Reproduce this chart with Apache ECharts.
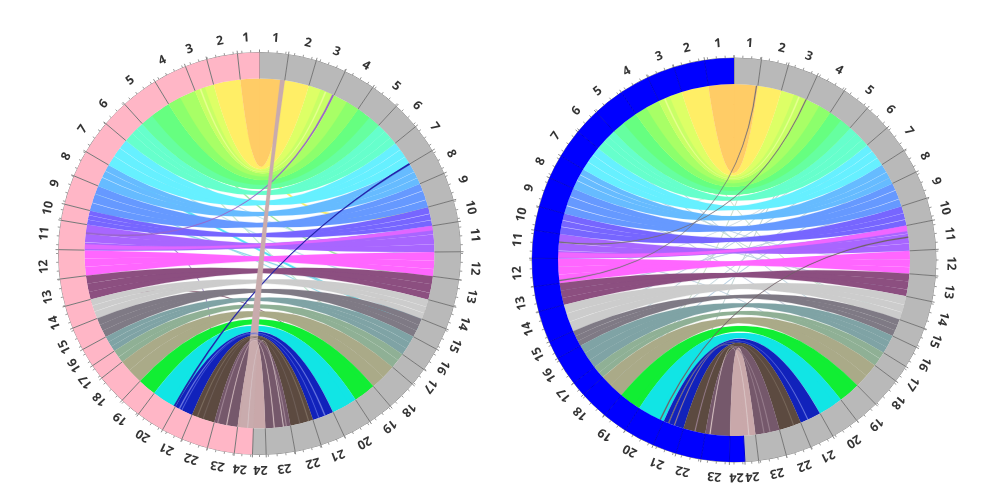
<!DOCTYPE html>
<html><head><meta charset="utf-8">
<style>html,body{margin:0;padding:0;background:#fff}#c{width:1000px;height:500px}</style>
<script src="https://cdn.jsdelivr.net/npm/echarts@6/dist/echarts.min.js"></script>
</head><body><div id="c"></div>
<script>
var chromosomes = ['1','2','3','4','5','6','7','8','9','10','11','12','13','14','15','16','17','18','19','20','21','22','23','24'];
var bandColors = ['#FFCC66','#FFEE66','#DDFF66','#A8FF66','#66FF80','#66FFCC','#66F0FF','#66BBFF','#6699FF','#7766FF','#A866FF','#FF66FF','#8C4F80','#CCCCCC','#7F7A85','#7FA3A5','#8FB095','#AAAA88','#11EE33','#11E5E5','#1122BB','#5C4A40','#75586B','#C9A8AA'];
var drawOrder = [11,12,10,13,9,14,8,15,7,16,6,17,5,18,4,19,3,20,2,21,1,22,0,23];

// degrees clockwise from the top for the grey half, anticlockwise for the coloured half
var leftGreyEdges = [0,8.3,16.4,25.2,34.3,42.9,50.9,59.2,66.5,74.6,80.9,89.5,97.5,105.3,112,118.4,125.2,130.5,139.4,146.7,155.1,162.2,169.8,178.1,182];
var leftPinkEdges = [0,6.3,15.2,21.6,31.3,42.1,49.8,59.6,67.3,75.8,80.5,88.9,97.3,105.2,111.8,118.5,123.9,128.3,136.9,143,151.2,157.3,165,172.8,178];
var rightGreyEdges = [0,7.8,15.6,24.3,33.1,41.3,49.2,57.2,64.2,72.2,78.7,87,94.5,101.9,109.8,115.6,121.8,126.8,135.5,142.6,150.7,157.7,165,173,176.9];
var rightBlueEdges = [0,8.4,17.3,25.3,33.9,43,50.6,59,66,74.7,81.5,89.5,97.6,104.8,113.9,119.2,127.5,131.8,140.2,147.4,156.4,163.3,170.6,178.7,183.1];

var leftGreyLabels = [4.3,13,20.9,29.6,39.3,46.8,54.1,62.5,70,77.7,85.1,93.9,101.4,108.9,115.2,121.8,127.8,136.3,143,151,158.8,165.7,173.4,179.7];
var leftPinkLabels = [3.6,10.6,18.9,26.7,36.8,46.2,54.9,63.3,71.1,77.9,84.7,93.5,101.6,108.7,115.6,121.2,126.5,132.4,139.9,147.4,154.6,161.6,168.8,174.8];
var rightGreyLabels = [4.1,12.7,20.2,29,38.6,46.1,53.6,61.4,68.7,76.1,83.1,90.9,98.4,105.7,111.9,118.6,124.7,130.9,139.1,146.6,154.4,161.1,168.6,175.1];
var rightBlueLabels = [4.3,12.6,20.2,29.6,38.9,46.6,55.2,63,70.6,78,84.7,93.5,101.5,108.5,115.7,122,128.5,135,143.6,151.4,159.2,166.3,174.8,180.7];

// strands of each chromosome's ribbon: fractions of its sector from the top,
// [grey side from, to, coloured side from, to]
var strandSpans = [
 [[0,1,0,1]],
 [[0,1,0,1]],
 [[0,1,0,1]],
 [[0,1,0,1]],
 [[0,1,.1,1],[0,.3,0,.2]],
 [[0,.35,.6,1],[.35,.7,.32,.6],[.7,1,0,.32]],
 [[0,.32,.66,1],[.33,.66,.33,.65],[.67,1,0,.32]],
 [[0,.4,.6,1],[.42,.7,.3,.58],[.72,1,0,.28]],
 [[0,.3,.7,1],[.32,.68,.34,.68],[.7,1,0,.32]],
 [[0,.35,.66,1],[.37,.68,.34,.64],[.7,1,0,.32]],
 [[0,.32,.7,1],[.33,.7,.36,.68],[.71,1,0,.34]],
 [[0,.36,.66,1],[.37,.7,.34,.65],[.71,1,0,.33]],
 [[0,.34,.68,1],[.34,.7,.34,.68],[.71,1,0,.34]],
 [[0,.36,.64,1],[.37,.68,.33,.63],[.69,1,0,.32]],
 [[0,.34,.66,1],[.34,.66,.34,.66],[.66,1,0,.34]],
 [[0,.33,.67,1],[.33,.66,.34,.67],[.66,1,0,.34]],
 [[0,.45,.55,1],[.46,1,0,.54]],
 [[0,.5,.42,1],[.5,1,0,.42]],
 [[0,.72,.28,1],[.28,1,0,.72]],
 [[0,.7,.3,1],[.3,1,0,.7]],
 [[.01,1,.01,1]],
 [[0,1,0,1]],
 [[0,1,0,1]],
 [[0,1,0,1]]
];

// [grey side from, to, coloured side from, to] in degrees
var leftUnderLinks = [
 [74.6,76.2,8,9.6], [114.8,116,60,61.2], [120,120.6,70,70.6], [99,99.8,30,30.8],
 [112,112.8,74,74.8], [130,130.6,40,40.6], [104,104.6,54,54.6], [90,90.5,45,45.5],
 [203,203.6,75,75.6], [146,146.4,106,106.4], [109,109.4,174,174.4]
];
var leftUnderColors = ['#FFEE66','#55E5F5','#8FD8E8','#A0E8A0','#8FD8E8','#C4E8D0','#B8E4EC','#B8E4EC','#9A80C0','#80566C','#B8A69A'];
var leftShadeLinks = [
 [20.5,25.2,18.2,21.6], [22,22.5,19.5,20], [30,34.3,27,31.3], [39,42.9,38,42.1], [80.9,82.4,87,88.5]
];
var leftShadeColors = ['#C8FF66','#E6FF90','#8CFF6C','#66FFA0','#E066FF'];
var leftOverLinks = [
 [24.6,25.2,83,83.6], [58.9,59.4,150.6,151.2], [6.8,8.3,173.5,178],
 [171,171.3,166,166.3], [175,175.3,169,169.3], [163.5,163.8,159,159.3], [157.8,158.2,152.5,152.9], [160,160.25,153.5,153.75],[166.5,166.8,161,161.3],[172,172.25,176,176.25]
];
var leftOverColors = ['#9966CC','#2222AA','#C9ABAD','#A48A98','#D4BEC0','#7E6E60','#6A78E0','#5566DD','#72625A','#D6C4C6'];

var rightUnderLinks = [
 [20,20.4,60,60.4], [38,38.4,120,120.4], [50,50.4,110,110.4], [62,62.4,135,135.4],
 [100,100.4,70,70.4], [112,112.4,20,20.4], [120,120.4,40,40.4], [135,135.4,90,90.4],
 [30,30.4,160,160.4], [12,12.4,140,140.4], [70,70.4,100,100.4], [90,90.4,55,55.4],
 [44,44.4,92,92.4], [56,56.4,130,130.4], [108,108.4,48,48.4], [128,128.4,64,64.4]
];
var rightUnderColors = ['#C4DECC','#B8D0DC','#B8D0DC','#B4CCE0','#B4CCE0','#CCDEC8','#B8D0DC','#B8CCDC','#BCD0D0','#C4D8C4','#B4C8E0','#B4CCE0','#C8D4DC','#C0D4DC','#BCD8D0','#C4CCDC'];
var rightShadeLinks = [
 [20,24.3,21.5,25.3], [21.5,22,23,23.5], [29,33.1,30,33.9], [37.5,41.3,39,43], [78.7,80.5,87.5,89.3]
];
var rightShadeColors = ['#C8FF66','#E6FF90','#8CFF6C','#66FFA0','#F066FF'];
var rightOverLinks = [
 [7.2,7.55,96.5,96.9], [24,24.35,84,84.4], [82.3,82.7,155,155.4],
 [168,168.3,160,160.3], [170,170.3,167,167.3], [175,175.3,172,172.3], [155,155.3,158,158.3], [160,160.3,158,158.3]
];
var rightOverColors = ['#777078','#777078','#706068','#9A8090','#9A8090','#DCC8C8','#6A78E0','#7A6A5E'];

var tickStep = 2.5;

function ribbonPath(api, r, a0, a1, b0, b1) {
  var c = api.coord([0, 0]);
  var p = function (a) { var q = api.coord([r, a]); return q[0].toFixed(2) + ' ' + q[1].toFixed(2); };
  var arc = 'A ' + r + ' ' + r + ' 0 0 1 ';
  var q = 'Q ' + c[0].toFixed(2) + ' ' + c[1].toFixed(2) + ' ';
  return 'M ' + p(a0) + ' ' + arc + p(a1) + ' ' + q + p(b0) + ' ' + arc + p(b1) + ' ' + q + p(a0) + ' Z';
}
function ribbonSeries(polarIndex, r, rows, colors, z) {
  return {
    type: 'custom', coordinateSystem: 'polar', polarIndex: polarIndex, silent: true, z: z, animation: false,
    data: rows,
    renderItem: function (params, api) {
      var a0 = api.value(0), a1 = api.value(1), b0 = api.value(2), b1 = api.value(3);
      var col = colors[params.dataIndex];
      return { type: 'path', shape: { pathData: ribbonPath(api, r, a0, a1, b0, b1) },
        style: { fill: col, stroke: col, lineWidth: 0.2 } };
    }
  };
}
function linkRows(links) {
  // coloured-side angles are stored anticlockwise; the polar axis runs clockwise
  return links.map(function (l) { return [l[0], l[1], 360 - l[3], 360 - l[2]]; });
}
function bandRows(greyEdges, colorEdges) {
  var rows = [], cols = [];
  drawOrder.forEach(function (i) {
    strandSpans[i].forEach(function (s) {
      var A0 = greyEdges[i], dA = greyEdges[i + 1] - A0;
      var B0 = colorEdges[i], dB = colorEdges[i + 1] - B0;
      rows.push([A0 + s[0] * dA, A0 + s[1] * dA, 360 - (B0 + s[3] * dB), 360 - (B0 + s[2] * dB)]);
      cols.push(bandColors[i]);
    });
  });
  return { rows: rows, cols: cols };
}
function ringSeries(polarIndex, r0, R, greyEdges, colorEdges, ringColor, lineColor) {
  var rows = [], fills = [];
  for (var i = 0; i < 24; i++) { rows.push([greyEdges[i], greyEdges[i + 1]]); fills.push('#B9B9B9'); }
  for (var j = 23; j >= 0; j--) { rows.push([360 - colorEdges[j + 1], 360 - colorEdges[j]]); fills.push(ringColor); }
  return {
    type: 'custom', coordinateSystem: 'polar', polarIndex: polarIndex, silent: true, z: 4, animation: false,
    data: rows,
    renderItem: function (params, api) {
      var a = api.value(0), b = api.value(1);
      var P = function (r, t) { var q = api.coord([r, t]); return q[0].toFixed(2) + ' ' + q[1].toFixed(2); };
      var isGrey = params.dataIndex < 24;
      var d = 'M ' + P(r0, a) + ' L ' + P(R, a) + ' A ' + R + ' ' + R + ' 0 0 1 ' + P(R, b) + ' L ' + P(r0, b) + ' A ' + r0 + ' ' + r0 + ' 0 0 0 ' + P(r0, a) + ' Z';
      var p1 = api.coord([r0, a]), p2 = api.coord([R, a]);
      var tk = api.coord([R + 3, a]);
      return { type: 'group', children: [
        { type: 'path', shape: { pathData: d }, style: { fill: fills[params.dataIndex] } },
        { type: 'line', shape: { x1: p1[0], y1: p1[1], x2: p2[0], y2: p2[1] }, style: { stroke: isGrey ? '#777' : lineColor, lineWidth: 1 } },
        { type: 'line', shape: { x1: p2[0], y1: p2[1], x2: tk[0], y2: tk[1] }, style: { stroke: '#888', lineWidth: 1 } }
      ] };
    }
  };
}
function labelSeries(polarIndex, r, greyLabels, colorLabels) {
  var data = [];
  chromosomes.forEach(function (name, i) {
    data.push({ name: name, value: [r, greyLabels[i]], label: { rotate: -greyLabels[i] } });
    data.push({ name: name, value: [r, 360 - colorLabels[i]], label: { rotate: colorLabels[i] } });
  });
  return {
    type: 'scatter', coordinateSystem: 'polar', polarIndex: polarIndex, silent: true, z: 6, animation: false,
    symbolSize: 1, itemStyle: { color: 'rgba(0,0,0,0)' }, clip: false,
    label: { show: true, position: 'inside', formatter: '{b}', color: '#000', fontFamily: 'Open Sans', fontWeight: 700, fontSize: 12.5 },
    data: data
  };
}
var axisCommon = function (i, R) { return {
  angle: { polarIndex: i, type: 'value', min: 0, max: 360, interval: tickStep, startAngle: 90, clockwise: true,
    axisLabel: { show: false }, splitLine: { show: false }, minorTick: { show: false },
    axisLine: { lineStyle: { color: '#8a8a8a', width: 1 } },
    axisTick: { length: 2.5, lineStyle: { color: '#9a9a9a', width: 1 } } },
  radius: { polarIndex: i, type: 'value', min: 0, max: R,
    axisLine: { show: false }, axisTick: { show: false }, axisLabel: { show: false }, splitLine: { show: false } }
}; };
var a0 = axisCommon(0, 201), a1 = axisCommon(1, 202);
var leftBands = bandRows(leftGreyEdges, leftPinkEdges);
var rightBands = bandRows(rightGreyEdges, rightBlueEdges);

var chart = echarts.init(document.getElementById('c'), null, { renderer: 'canvas' });
chart.setOption({
  animation: false, backgroundColor: '#fff',
  polar: [{ center: [259.5, 253.5], radius: 201 }, { center: [734, 260], radius: 202 }],
  angleAxis: [a0.angle, a1.angle],
  radiusAxis: [a0.radius, a1.radius],
  series: [
    ribbonSeries(0, 175, linkRows(leftUnderLinks), leftUnderColors, 1),
    ribbonSeries(0, 175, leftBands.rows, leftBands.cols, 2),
    ribbonSeries(0, 175, linkRows(leftShadeLinks), leftShadeColors, 2),
    ribbonSeries(0, 175, linkRows(leftOverLinks), leftOverColors, 3),
    ringSeries(0, 175, 201, leftGreyEdges, leftPinkEdges, '#FFB6C6', '#777'),
    labelSeries(0, 216, leftGreyLabels, leftPinkLabels),
    ribbonSeries(1, 176, linkRows(rightUnderLinks), rightUnderColors, 1),
    ribbonSeries(1, 176, rightBands.rows, rightBands.cols, 2),
    ribbonSeries(1, 176, linkRows(rightShadeLinks), rightShadeColors, 2),
    ribbonSeries(1, 176, linkRows(rightOverLinks), rightOverColors, 3),
    ringSeries(1, 176, 202, rightGreyEdges, rightBlueEdges, '#0000FF', '#0000D0'),
    labelSeries(1, 217, rightGreyLabels, rightBlueLabels)
  ]
});
</script></body></html>
